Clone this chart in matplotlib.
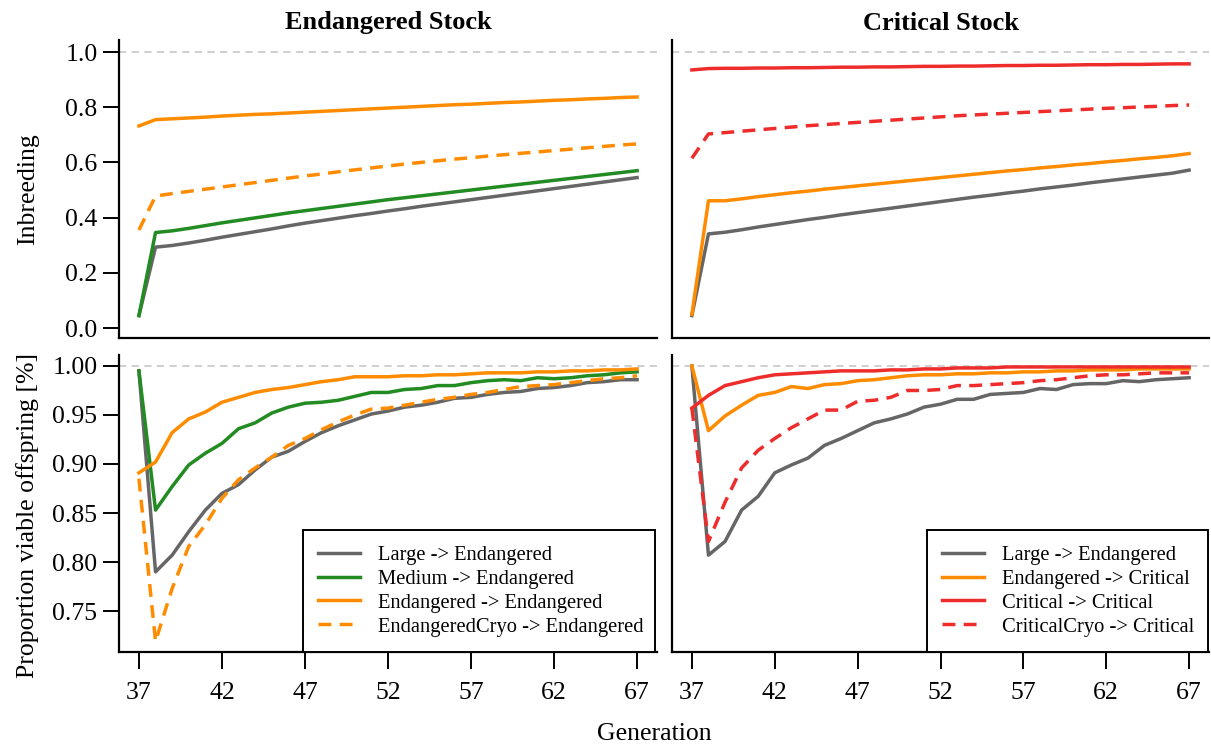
import matplotlib
matplotlib.use("Agg")
import matplotlib.pyplot as plt
import numpy as np

plt.rcParams['font.family'] = ['Liberation Serif', 'DejaVu Serif']

generations = list(range(37, 68))

# ---- Inbreeding, Endangered Stock ----
inb_end_large = [0.045, 0.293, 0.299, 0.308, 0.318, 0.329, 0.339, 0.349, 0.359, 0.370, 0.380,
                 0.389, 0.398, 0.407, 0.415, 0.424, 0.432, 0.441, 0.449, 0.457, 0.465,
                 0.473, 0.481, 0.489, 0.497, 0.505, 0.513, 0.521, 0.529, 0.537, 0.545]
inb_end_medium = [0.045, 0.346, 0.352, 0.361, 0.371, 0.381, 0.390, 0.399, 0.408, 0.417, 0.425,
                  0.433, 0.441, 0.449, 0.457, 0.465, 0.472, 0.479, 0.486, 0.493, 0.500,
                  0.507, 0.514, 0.521, 0.528, 0.535, 0.542, 0.549, 0.556, 0.563, 0.570]
inb_end_end = [0.732, 0.755, 0.758, 0.761, 0.764, 0.768, 0.771, 0.774, 0.776, 0.779, 0.782,
               0.785, 0.788, 0.791, 0.794, 0.797, 0.800, 0.803, 0.806, 0.809, 0.811,
               0.814, 0.817, 0.819, 0.822, 0.825, 0.827, 0.830, 0.832, 0.835, 0.837]
inb_end_cryo = [0.355, 0.478, 0.487, 0.495, 0.503, 0.511, 0.519, 0.527, 0.535, 0.543, 0.551,
                0.558, 0.566, 0.573, 0.580, 0.587, 0.594, 0.600, 0.606, 0.612, 0.617,
                0.623, 0.628, 0.633, 0.638, 0.643, 0.648, 0.653, 0.658, 0.663, 0.667]

# ---- Inbreeding, Critical Stock ----
inb_crit_large = [0.045, 0.341, 0.347, 0.356, 0.366, 0.375, 0.384, 0.393, 0.401, 0.410, 0.418,
                  0.426, 0.434, 0.442, 0.450, 0.458, 0.466, 0.474, 0.481, 0.489, 0.496,
                  0.504, 0.511, 0.518, 0.526, 0.533, 0.540, 0.547, 0.554, 0.561, 0.572]
inb_crit_end = [0.050, 0.461, 0.461, 0.468, 0.476, 0.483, 0.490, 0.496, 0.503, 0.509, 0.515,
                0.521, 0.527, 0.533, 0.539, 0.545, 0.551, 0.557, 0.563, 0.569, 0.574,
                0.580, 0.585, 0.591, 0.596, 0.602, 0.607, 0.613, 0.618, 0.624, 0.632]
inb_crit_crit = [0.935, 0.940, 0.941, 0.941, 0.942, 0.942, 0.943, 0.943, 0.944, 0.945, 0.945,
                 0.946, 0.946, 0.947, 0.948, 0.948, 0.949, 0.949, 0.950, 0.951, 0.951,
                 0.952, 0.952, 0.953, 0.954, 0.954, 0.955, 0.955, 0.956, 0.957, 0.957]
inb_crit_cryo = [0.615, 0.703, 0.708, 0.713, 0.718, 0.723, 0.728, 0.733, 0.737, 0.741, 0.745,
                 0.749, 0.753, 0.757, 0.761, 0.765, 0.769, 0.772, 0.775, 0.778, 0.781,
                 0.784, 0.787, 0.790, 0.793, 0.796, 0.798, 0.801, 0.803, 0.806, 0.808]

# ---- Viability, Endangered Stock ----
via_end_large = [0.995, 0.790, 0.807, 0.831, 0.853, 0.870, 0.879, 0.894, 0.907, 0.913, 0.923,
                 0.932, 0.939, 0.945, 0.951, 0.954, 0.958, 0.960, 0.963, 0.967, 0.968,
                 0.971, 0.973, 0.974, 0.977, 0.978, 0.980, 0.983, 0.984, 0.986, 0.986]
via_end_medium = [0.995, 0.853, 0.877, 0.899, 0.911, 0.921, 0.936, 0.942, 0.952, 0.958, 0.962,
                  0.963, 0.965, 0.969, 0.973, 0.973, 0.976, 0.977, 0.980, 0.980, 0.983,
                  0.985, 0.986, 0.985, 0.988, 0.987, 0.988, 0.990, 0.991, 0.993, 0.994]
via_end_end = [0.891, 0.902, 0.932, 0.946, 0.953, 0.963, 0.968, 0.973, 0.976, 0.978, 0.981,
               0.984, 0.986, 0.989, 0.989, 0.989, 0.990, 0.990, 0.991, 0.991, 0.992,
               0.993, 0.993, 0.993, 0.994, 0.994, 0.995, 0.995, 0.996, 0.996, 0.997]
via_end_cryo = [0.885, 0.719, 0.773, 0.816, 0.838, 0.865, 0.884, 0.896, 0.907, 0.919, 0.926,
                0.935, 0.943, 0.950, 0.956, 0.957, 0.960, 0.963, 0.966, 0.968, 0.971,
                0.973, 0.976, 0.979, 0.980, 0.981, 0.983, 0.985, 0.987, 0.988, 0.990]

# ---- Viability, Critical Stock ----
via_crit_large = [1.000, 0.807, 0.821, 0.853, 0.867, 0.891, 0.899, 0.906, 0.919, 0.926, 0.934,
                  0.942, 0.946, 0.951, 0.958, 0.961, 0.966, 0.966, 0.971, 0.972, 0.973,
                  0.977, 0.976, 0.981, 0.982, 0.982, 0.985, 0.984, 0.986, 0.987, 0.988]
via_crit_end = [1.000, 0.934, 0.949, 0.960, 0.970, 0.973, 0.979, 0.977, 0.981, 0.982, 0.985,
                0.986, 0.988, 0.990, 0.991, 0.991, 0.992, 0.992, 0.993, 0.993, 0.994,
                0.994, 0.995, 0.995, 0.996, 0.996, 0.996, 0.997, 0.997, 0.997, 0.997]
via_crit_crit = [0.957, 0.970, 0.980, 0.984, 0.988, 0.991, 0.992, 0.993, 0.994, 0.995, 0.995,
                 0.995, 0.996, 0.996, 0.997, 0.997, 0.998, 0.998, 0.998, 0.999, 0.999,
                 0.999, 0.999, 0.999, 0.999, 0.999, 0.999, 0.999, 0.999, 0.999, 0.999]
via_crit_cryo = [0.957, 0.821, 0.861, 0.896, 0.914, 0.926, 0.937, 0.946, 0.955, 0.955, 0.964,
                 0.965, 0.968, 0.975, 0.975, 0.976, 0.980, 0.980, 0.981, 0.982, 0.983,
                 0.985, 0.986, 0.988, 0.990, 0.991, 0.991, 0.992, 0.993, 0.993, 0.993]

x_ticks = [37, 42, 47, 52, 57, 62, 67]
inb_ticks = [0.0, 0.2, 0.4, 0.6, 0.8, 1.0]
via_ticks = [0.75, 0.80, 0.85, 0.90, 0.95, 1.00]

GRAY = '#666666'
GREEN = '#228B22'
ORANGE = '#FF8C00'
RED = '#EE2C2C'
LW = 2.5
DASH = (0, (3.7, 2.4))
TICK_FS = 18.5
LABEL_FS = 18.5

W, H = 1211, 746
fig = plt.figure(figsize=(W / 100, H / 100), dpi=100)

def rect(x0, y0, x1, y1):
    return [x0 / W, 1 - y1 / H, (x1 - x0) / W, (y1 - y0) / H]

ax_tl = fig.add_axes(rect(119, 40, 657, 338))
ax_tr = fig.add_axes(rect(672, 40, 1209, 338))
ax_bl = fig.add_axes(rect(119, 355, 657, 652))
ax_br = fig.add_axes(rect(672, 355, 1209, 652))

for ax in (ax_tl, ax_tr, ax_bl, ax_br):
    for s in ('top', 'right'):
        ax.spines[s].set_visible(False)
    for s in ('left', 'bottom'):
        ax.spines[s].set_linewidth(1.6)
        ax.spines[s].set_color('black')
    ax.set_xlim(35.8, 68.2)
    ax.tick_params(direction='out', length=11.5, width=1.4, labelsize=TICK_FS, pad=4, colors='black')
    ax.axhline(1.0, color='#CCCCCC', lw=1.3, ls=(0, (4, 3)), zorder=0)

for ax in (ax_tl, ax_tr):
    ax.set_ylim(-0.0362, 1.0435)
    ax.set_yticks(inb_ticks)
    ax.set_xticks([])
for ax in (ax_bl, ax_br):
    ax.set_ylim(0.7082, 1.0112)
    ax.set_yticks(via_ticks)
    ax.set_xticks(x_ticks)
    ax.tick_params(axis='x', length=12.5, pad=9)
ax_tl.set_yticklabels(['0.0', '0.2', '0.4', '0.6', '0.8', '1.0'])
ax_bl.set_yticklabels(['0.75', '0.80', '0.85', '0.90', '0.95', '1.00'])
for ax in (ax_tr, ax_br):
    ax.set_yticks([])

# Top-left
ax_tl.plot(generations, inb_end_large, color=GRAY, lw=LW)
ax_tl.plot(generations, inb_end_medium, color=GREEN, lw=LW)
ax_tl.plot(generations, inb_end_end, color=ORANGE, lw=LW)
ax_tl.plot(generations, inb_end_cryo, color=ORANGE, lw=LW, ls=DASH)
# Top-right
ax_tr.plot(generations, inb_crit_large, color=GRAY, lw=LW)
ax_tr.plot(generations, inb_crit_end, color=ORANGE, lw=LW)
ax_tr.plot(generations, inb_crit_crit, color=RED, lw=LW)
ax_tr.plot(generations, inb_crit_cryo, color=RED, lw=LW, ls=DASH)
# Bottom-left
l1, = ax_bl.plot(generations, via_end_large, color=GRAY, lw=LW, label='Large -> Endangered')
l2, = ax_bl.plot(generations, via_end_medium, color=GREEN, lw=LW, label='Medium -> Endangered')
l3, = ax_bl.plot(generations, via_end_end, color=ORANGE, lw=LW, label='Endangered -> Endangered')
l4, = ax_bl.plot(generations, via_end_cryo, color=ORANGE, lw=LW, ls=DASH, label='EndangeredCryo -> Endangered')
# Bottom-right
r1, = ax_br.plot(generations, via_crit_large, color=GRAY, lw=LW, label='Large -> Endangered')
r2, = ax_br.plot(generations, via_crit_end, color=ORANGE, lw=LW, label='Endangered -> Critical')
r3, = ax_br.plot(generations, via_crit_crit, color=RED, lw=LW, label='Critical -> Critical')
r4, = ax_br.plot(generations, via_crit_cryo, color=RED, lw=LW, ls=DASH, label='CriticalCryo -> Critical')

def legend(ax, handles, x0, x1):
    leg = ax.legend(handles=handles, loc='lower left',
                    bbox_to_anchor=rect(x0, 527, x1, 652), bbox_transform=fig.transFigure,
                    mode='expand', fontsize=14.8, frameon=True, fancybox=False,
                    edgecolor='black', framealpha=1, borderaxespad=0,
                    handlelength=2.0, handletextpad=0.9, labelspacing=0.22,
                    borderpad=0.75)
    leg.get_frame().set_linewidth(1.4)
    return leg

legend(ax_bl, [l1, l2, l3, l4], 303, 655)
legend(ax_br, [r1, r2, r3, r4], 927, 1208)

fig.text(388 / W, 1 - 22 / H, 'Endangered Stock', ha='center', va='center', fontsize=19, fontweight='bold')
fig.text(941 / W, 1 - 23 / H, 'Critical Stock', ha='center', va='center', fontsize=19, fontweight='bold')
fig.text(28 / W, 1 - 189 / H, 'Inbreeding', ha='center', va='center', rotation=90, fontsize=LABEL_FS)
fig.text(28 / W, 1 - 515 / H, 'Proportion viable offspring [%]', ha='center', va='center', rotation=90, fontsize=LABEL_FS)
fig.text(654 / W, 1 - 734 / H, 'Generation', ha='center', va='center', fontsize=LABEL_FS)

fig.savefig('out.png', dpi=100)
